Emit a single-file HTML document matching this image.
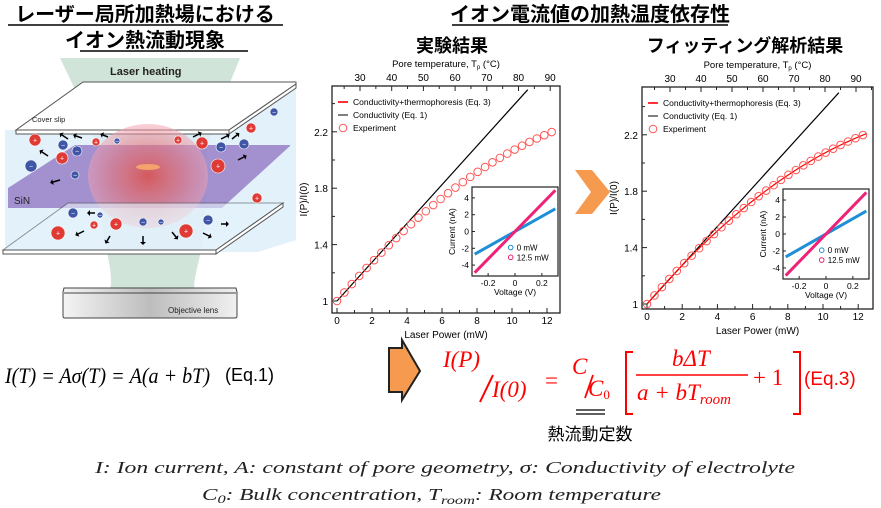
<!DOCTYPE html>
<html><head><meta charset="utf-8"><style>
body{margin:0;background:#fff;width:881px;height:508px;overflow:hidden;font-family:"Liberation Sans","Noto Sans CJK JP",sans-serif}
svg{position:absolute;left:0;top:0}
</style></head><body>
<svg id="s" width="881" height="508" xmlns="http://www.w3.org/2000/svg" font-family="Liberation Sans, Noto Sans CJK JP, sans-serif">
<defs>
<radialGradient id="hot" cx="50%" cy="50%" r="50%"><stop offset="0" stop-color="#d9534f" stop-opacity="0.9"/><stop offset="0.6" stop-color="#e8777a" stop-opacity="0.6"/><stop offset="1" stop-color="#f1a0b0" stop-opacity="0.5"/></radialGradient>
<linearGradient id="lens" x1="0" x2="1"><stop offset="0" stop-color="#f4f4f4"/><stop offset="0.5" stop-color="#bdbdbd"/><stop offset="1" stop-color="#f0f0f0"/></linearGradient>
</defs>
<g font-weight="bold" font-size="20" fill="#000">
<text x="145" y="21" text-anchor="middle">レーザー局所加熱場における</text>
<line x1="8" y1="25" x2="283" y2="25" stroke="#000" stroke-width="1.5"/>
<text x="145" y="47" text-anchor="middle">イオン熱流動現象</text>
<line x1="80" y1="51" x2="248" y2="51" stroke="#000" stroke-width="1.5"/>
<text x="590" y="21" text-anchor="middle">イオン電流値の加熱温度依存性</text>
<line x1="452" y1="25" x2="728" y2="25" stroke="#000" stroke-width="1.5"/>
<text x="452" y="52" text-anchor="middle" font-size="18">実験結果</text>
<text x="745" y="52" text-anchor="middle" font-size="18">フィッティング解析結果</text>
</g>
<g>
<path d="M60,58 L240,58 C215,120 200,150 205,190 C210,240 190,280 195,290 L110,290 C115,270 100,240 100,190 C105,150 85,110 60,58Z" fill="#c9dfd2" opacity="0.85"/>
<polygon points="5,130 43,130 43,130 296,84 296,240 258,252 5,252" fill="#dceefa" opacity="0.8"/>
<polygon points="83,82 296,82 296,84 229,130 16,130" fill="#fff" stroke="#555" stroke-width="1"/>
<polygon points="16,130 229,130 229,134 16,134" fill="#fff" stroke="#555" stroke-width="1"/>
<polygon points="229,134 296,88 296,84 229,130" fill="#fff" stroke="#555" stroke-width="1"/>
<polygon points="8,188 8,208 222,208 290,146 290,145 75,145" fill="#8e6fc0" opacity="0.75"/>
<ellipse cx="148" cy="176" rx="60" ry="52" fill="url(#hot)"/>
<ellipse cx="148" cy="167" rx="12" ry="3" fill="#f3a36b"/>
<polygon points="68,203 283,203 216,250 3,250" fill="#e6f3fb" opacity="0.6" stroke="#555"/>
<polygon points="3,250 216,250 216,254 3,254" fill="#fff" stroke="#555"/>
<polygon points="216,254 283,207 283,203 216,250" fill="#fff" stroke="#555"/>
<text x="32" y="122" font-size="7.5" fill="#222">Cover slip</text>
<text x="14" y="204" font-size="10" fill="#222">SiN</text>
<text x="110" y="75" font-size="11" font-weight="bold" fill="#222">Laser heating</text>
<path d="M64,288 L236,288 L237,292 L237,316 Q237,318 235,318 L65,318 Q63,318 63,316 L63,292Z" fill="url(#lens)" stroke="#444"/>
<line x1="64" y1="293" x2="236" y2="293" stroke="#444"/>
<text x="168" y="313" font-size="8" fill="#222">Objective lens</text>
<g id="ions"></g>
</g>
<polygon points="575,170 592,170 610,192 592,214 575,214 591,192" fill="#f59a4f"/>
<g id="c1"></g><g id="c2"></g>
<g font-family="Liberation Serif, serif" font-style="italic" font-size="22">
<text x="5" y="383" textLength="205" lengthAdjust="spacingAndGlyphs">I(T) = Aσ(T) = A(a + bT)</text>
</g>
<text x="225" y="381" font-size="18">(Eq.1)</text>
<polygon points="389,348 402,348 402,340 420,371 402,400 402,392 389,392" fill="#f59a4f" stroke="#222" stroke-width="2"/>
<g fill="#f00" font-family="Liberation Serif, serif" font-style="italic" font-size="23">
<text x="443" y="367">I(P)</text>
<line x1="493" y1="375" x2="480" y2="402" stroke="#f00" stroke-width="2"/>
<text x="492" y="397">I(0)</text>
<text x="545" y="388" font-style="normal">=</text>
<text x="572" y="374">C</text>
<line x1="593" y1="375" x2="585" y2="398" stroke="#f00" stroke-width="1.8"/>
<text x="588" y="396">C<tspan font-size="13" dy="3" font-style="normal">0</tspan></text>
<path d="M633,352 L626,352 L626,414 L633,414" fill="none" stroke="#f00" stroke-width="2"/>
<text x="672" y="366">bΔT</text>
<line x1="636" y1="375" x2="748" y2="375" stroke="#f00" stroke-width="1.5"/>
<text x="637" y="400">a + bT<tspan font-size="15" dy="4">room</tspan></text>
<text x="753" y="385" font-style="normal">+ 1</text>
<path d="M793,352 L800,352 L800,414 L793,414" fill="none" stroke="#f00" stroke-width="2"/>
<text x="804" y="385" font-style="normal" font-family="Liberation Sans, sans-serif" font-size="19">(Eq.3)</text>
</g>
<line x1="576" y1="410" x2="605" y2="410" stroke="#000" stroke-width="1.2"/>
<line x1="576" y1="414" x2="605" y2="414" stroke="#000" stroke-width="1.2"/>
<text x="590" y="440" text-anchor="middle" font-size="17">熱流動定数</text>
<g font-family="Liberation Serif, serif" font-style="italic" font-size="17" fill="#222">
<text x="95" y="473" textLength="700" lengthAdjust="spacingAndGlyphs">I: Ion current, A: constant of pore geometry, σ: Conductivity of electrolyte</text>
<text x="202" y="500" textLength="459" lengthAdjust="spacingAndGlyphs">C<tspan font-size="12" dy="3">0</tspan><tspan dy="-3">: Bulk concentration, T</tspan><tspan font-size="12" dy="4">room</tspan><tspan dy="-4">: Room temperature</tspan></text>
</g>
</svg>
<script>
var NS="http://www.w3.org/2000/svg";
function el(p,t,a,txt){var e=document.createElementNS(NS,t);for(var k in a)e.setAttribute(k,a[k]);if(txt!=null)e.textContent=txt;p.appendChild(e);return e;}
var ig=document.getElementById("ions");
var ions=[[35,100,1,6],[63,105,0,5],[96,102,1,4],[117,101,0,3],[178,100,1,4],[202,103,1,6],[221,107,0,5],[244,104,0,5],[251,88,1,5],[274,72,0,4],[31,126,0,6],[77,111,0,5],[62,118,1,6],[75,135,0,4],[218,126,1,7],[257,158,1,5],[73,173,0,5],[100,175,0,3],[94,185,1,4],[116,184,1,6],[143,182,0,4],[161,182,0,3],[186,191,1,7],[208,180,0,5],[58,193,1,7]];
ions.forEach(function(i){var y=i[1]+40,x=i[0];el(ig,"circle",{cx:x,cy:y,r:i[3],fill:i[2]?"#e03a35":"#3f55a6",stroke:"#fff","stroke-width":0.6});el(ig,"text",{x:x,y:y+2.5,"text-anchor":"middle","font-size":7,fill:"#fff"},i[2]?"+":"−");});
var arr=[[68,139,-6,-4],[82,138,-6,-2],[108,137,-5,-2],[48,156,-6,-4],[60,180,-7,2],[193,137,6,-3],[221,139,6,-3],[232,139,5,-4],[238,160,6,-3],[95,213,-5,0],[84,231,-6,3],[110,236,-3,5],[143,236,0,6],[172,232,4,5],[203,233,6,3],[221,224,5,0]];
arr.forEach(function(a){var x=a[0],y=a[1],dx=a[2],dy=a[3];var L=Math.hypot(dx,dy),ux=dx/L,uy=dy/L;var x2=x+dx,y2=y+dy;el(ig,"line",{x1:x,y1:y,x2:x2,y2:y2,stroke:"#000","stroke-width":1.5});el(ig,"polygon",{points:(x2+ux*3)+","+(y2+uy*3)+" "+(x2-uy*3)+","+(y2+ux*3)+" "+(x2+uy*3)+","+(y2-ux*3),fill:"#000"});});
function chart(g,o){
 var X=function(p){return o.x0+p*o.sx},Y=function(v){return o.y1-(v-1)*o.sy};
 el(g,"rect",{x:o.L,y:o.T,width:o.R-o.L,height:o.B-o.T,fill:"none",stroke:"#222","stroke-width":1.3});
 for(var p=0;p<=12;p++){var l=p%2?3:5;el(g,"line",{x1:X(p),y1:o.B,x2:X(p),y2:o.B-l,stroke:"#222"});if(p%2==0)el(g,"text",{x:X(p),y:o.B+11,"font-size":10,"text-anchor":"middle"},p);}
 for(var t=25;t<=95;t+=5){var xx=o.t30+(t-30)*o.st;if(xx<o.L||xx>o.R)continue;el(g,"line",{x1:xx,y1:o.T,x2:xx,y2:o.T+(t%10?3:5),stroke:"#222"});if(t%10==0)el(g,"text",{x:xx,y:o.T-5,"font-size":10,"text-anchor":"middle"},t);}
 for(var v=1;v<=2.45;v+=0.2){var yy=Y(v);el(g,"line",{x1:o.L,y1:yy,x2:o.L+(Math.round(v*5)%2?5:3),y2:yy,stroke:"#222"});}
 [1,1.4,1.8,2.2].forEach(function(v){el(g,"text",{x:o.L-4,y:Y(v)+4,"font-size":10,"text-anchor":"end"},v);});
 el(g,"text",{x:(o.L+o.R)/2,y:o.B+25,"font-size":10,"text-anchor":"middle"},"Laser Power (mW)");
 var tt=el(g,"text",{x:(o.L+o.R)/2,y:o.T-19,"font-size":9.5,"text-anchor":"middle"},"Pore temperature, T");
 el(tt,"tspan",{"font-size":6,dy:2},"p");el(tt,"tspan",{dy:-2}," (°C)");
 el(g,"text",{x:o.L-25,y:(o.T+o.B)/2,"font-size":10,"text-anchor":"middle",transform:"rotate(-90 "+(o.L-25)+" "+((o.T+o.B)/2)+")"},"I(P)/I(0)");
 el(g,"line",{x1:X(0),y1:Y(1),x2:X(10.9),y2:Y(1+10.9*0.1375),stroke:"#000","stroke-width":1.2});
 if(o.fit){var d="";for(var p=0;p<=12.5;p+=0.25)d+=(p?"L":"M")+X(p).toFixed(1)+","+Y(1+0.145*p-0.00386*p*p).toFixed(1);el(g,"path",{d:d,fill:"none",stroke:"#f00","stroke-width":1.2});}
 for(var i=0;i<=29;i++){var p=i*0.423;el(g,"circle",{cx:X(p),cy:Y(1+0.145*p-0.00386*p*p),r:3.8,fill:"none",stroke:"#f55","stroke-width":1});}
 var lx=o.L+6,ly=o.T+16;
 el(g,"line",{x1:lx,y1:ly,x2:lx+10,y2:ly,stroke:"#f33","stroke-width":2});
 el(g,"text",{x:lx+15,y:ly+3,"font-size":8.5},"Conductivity+thermophoresis (Eq. 3)");
 el(g,"line",{x1:lx,y1:ly+13,x2:lx+10,y2:ly+13,stroke:"#000","stroke-width":1});
 el(g,"text",{x:lx+15,y:ly+16,"font-size":8.5},"Conductivity (Eq. 1)");
 el(g,"circle",{cx:lx+5,cy:ly+26,r:3.8,fill:"none",stroke:"#f55"});
 el(g,"text",{x:lx+15,y:ly+29,"font-size":8.5},"Experiment");
 var a=o.in;el(g,"rect",{x:a[0],y:a[1],width:a[2]-a[0],height:a[3]-a[1],fill:"#fff",stroke:"#222","stroke-width":1.2});
 var iw=a[2]-a[0],ih=a[3]-a[1],VX=function(v){return a[0]+(v+0.32)/0.64*iw},VY=function(c){return a[1]+ih/2-c/10.6*ih};
 [-4,-2,0,2,4].forEach(function(c){el(g,"line",{x1:a[0],y1:VY(c),x2:a[0]+3,y2:VY(c),stroke:"#222"});el(g,"text",{x:a[0]-3,y:VY(c)+3,"font-size":8.5,"text-anchor":"end"},c);});
 [-0.2,0,0.2].forEach(function(v){el(g,"line",{x1:VX(v),y1:a[3],x2:VX(v),y2:a[3]-3,stroke:"#222"});el(g,"text",{x:VX(v),y:a[3]+10,"font-size":8.5,"text-anchor":"middle"},v);});
 el(g,"text",{x:(a[0]+a[2])/2,y:a[3]+19,"font-size":8.5,"text-anchor":"middle"},"Voltage (V)");
 el(g,"text",{x:a[0]-17,y:(a[1]+a[3])/2,"font-size":8.5,"text-anchor":"middle",transform:"rotate(-90 "+(a[0]-17)+" "+((a[1]+a[3])/2)+")"},"Current (nA)");
 el(g,"line",{x1:VX(-0.3),y1:VY(-2.7),x2:VX(0.3),y2:VY(2.7),stroke:"#1e8fd6","stroke-width":3});
 el(g,"line",{x1:VX(-0.3),y1:VY(-4.9),x2:VX(0.3),y2:VY(4.9),stroke:"#ee2277","stroke-width":3});
 el(g,"circle",{cx:a[0]+iw*0.45,cy:a[1]+ih*0.68,r:2.3,fill:"none",stroke:"#1e8fd6"});
 el(g,"text",{x:a[0]+iw*0.45+6,y:a[1]+ih*0.68+3,"font-size":8},"0 mW");
 el(g,"circle",{cx:a[0]+iw*0.45,cy:a[1]+ih*0.79,r:2.3,fill:"none",stroke:"#ee2277"});
 el(g,"text",{x:a[0]+iw*0.45+6,y:a[1]+ih*0.79+3,"font-size":8},"12.5 mW");
}
chart(document.getElementById("c1"),{L:332,R:560,T:86,B:313,x0:337,sx:17.5,y1:301,sy:141,t30:360,st:3.17,in:[472,187,558,276],fit:false});
chart(document.getElementById("c2"),{L:642,R:873,T:87,B:309,x0:647,sx:17.6,y1:304,sy:141,t30:670,st:3.1,in:[783,189,869,279],fit:true});
</script>
</body></html>
